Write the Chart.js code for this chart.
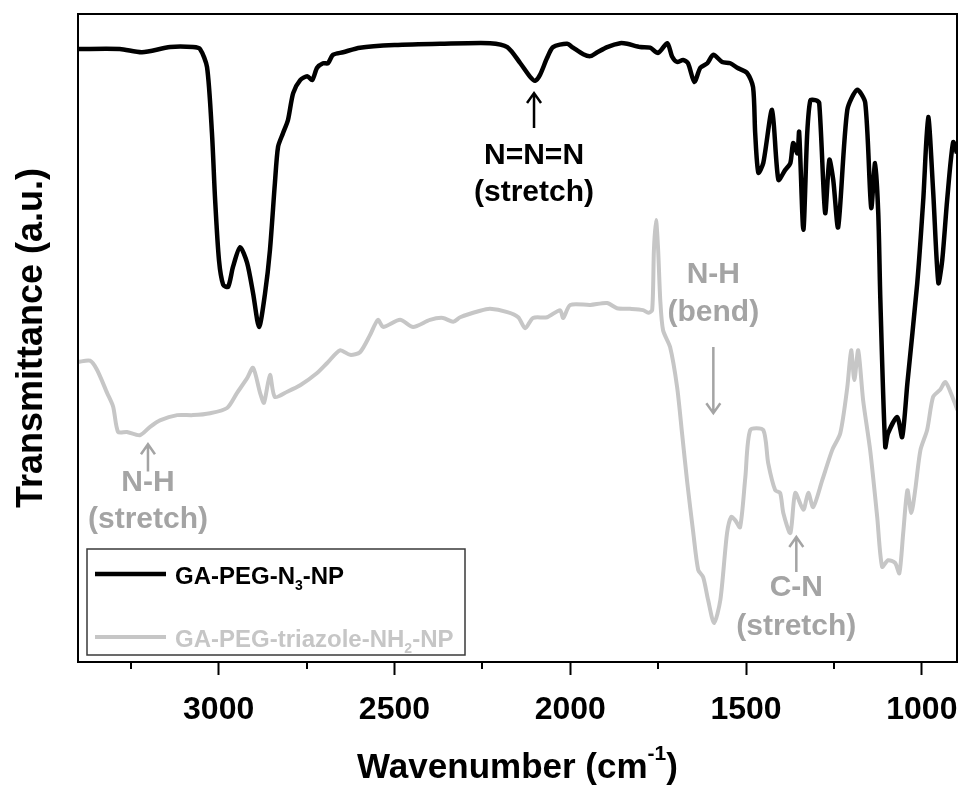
<!DOCTYPE html>
<html lang="en">
<head>
<meta charset="UTF-8">
<title>FTIR spectra</title>
<script src="https://cdn.jsdelivr.net/npm/chart.js"></script>
<style>
    body { margin: 0; background: #fff; }
    .wrap { width: 965px; height: 792px; }
</style>
</head>
<body>
<div class="wrap"><canvas id="ftir"></canvas></div>
<script>
// GA-PEG-N3-NP (black)
const azideWn = [3400, 3281, 3218, 3138, 3073, 3053, 3033, 3019, 3010, 2999, 2987, 2973, 2959, 2939, 2919, 2902, 2885, 2868, 2854, 2840,
    2831, 2817, 2803, 2788, 2768, 2748, 2734, 2720, 2703, 2689, 2675, 2646, 2598, 2500, 2370, 2228, 2179, 2142,
    2114, 2100, 2086, 2066, 2049, 2009, 1992, 1963, 1943, 1923,
    1895, 1858, 1838, 1801, 1773, 1750, 1724, 1710, 1696, 1679,
    1665, 1647, 1630, 1610, 1593, 1568, 1545, 1525, 1497, 1480,
    1474, 1465, 1451, 1426, 1408, 1389, 1374, 1366, 1354, 1349,
    1337, 1326, 1317, 1303, 1292, 1275, 1263, 1252, 1238, 1212,
    1184, 1161, 1144, 1133, 1124, 1118, 1104, 1096, 1070, 1056,
    1041, 1013, 996, 982, 968, 953, 942, 928, 911, 900];
const azideT = [94.6, 94.6, 94.1, 94.9, 94.9, 94.6, 91.8, 81.6, 71.3, 62.0, 58.2, 57.9, 61.0, 64.0, 61.6, 56.9, 51.7, 56.9, 63.6, 73.9,
    79.5, 81.6, 83.6, 87.8, 89.8, 90.4, 89.8, 91.7, 92.4, 92.4, 93.7, 94.1, 94.8, 95.2, 95.4, 95.5, 94.9, 92.4,
    90.3, 89.7, 90.6, 93.2, 94.9, 95.4, 94.8, 93.8, 93.5, 94.1,
    94.9, 95.5, 95.4, 94.9, 94.8, 94.0, 95.5, 93.4, 92.6, 92.9,
    92.4, 89.5, 91.7, 92.4, 93.7, 92.6, 92.4, 91.7, 90.9, 88.7,
    81.6, 75.5, 77.0, 85.2, 74.4, 75.9, 77.0, 80.1, 78.5, 81.8,
    66.7, 81.6, 86.7, 86.7, 86.3, 69.3, 77.5, 74.4, 67.1, 85.2,
    88.3, 86.3, 70.1, 77.0, 69.3, 55.9, 33.2, 35.3, 37.8, 34.7,
    43.1, 58.5, 71.3, 84.1, 72.8, 58.5, 62.0, 71.3, 80.2, 78.5];

// GA-PEG-triazole-NH2-NP (grey)
const amineWn = [3400, 3366, 3346, 3317, 3300, 3286, 3261, 3224, 3195, 3167,
    3118, 3073, 3024, 2976, 2948, 2919, 2902, 2882, 2871, 2854,
    2840, 2805, 2768, 2720, 2692, 2655, 2626, 2598, 2569, 2547,
    2532, 2484, 2447, 2399, 2362, 2333, 2313, 2256, 2228, 2179,
    2148, 2128, 2106, 2066, 2029, 2020, 2000, 1943, 1895, 1867,
    1830, 1793, 1778, 1767, 1762, 1756, 1750, 1744, 1736, 1716,
    1696, 1682, 1667, 1650, 1636, 1622, 1608, 1591, 1573, 1554,
    1542, 1531, 1517, 1502, 1488, 1451, 1437, 1417, 1403, 1394,
    1374, 1360, 1337, 1323, 1309, 1283, 1255, 1232, 1212, 1201,
    1192, 1181, 1167, 1147, 1127, 1113, 1096, 1076, 1064, 1053,
    1041, 1030, 1019, 1004, 985, 968, 948, 933, 913, 899];
const amineT = [46.3, 46.5, 45.1, 41.5, 39.4, 35.5, 35.5, 35.0, 36.3, 37.3,
    38.1, 38.1, 38.4, 39.2, 41.5, 43.8, 45.4, 41.5, 40.0, 44.3,
    40.9, 41.7, 42.7, 44.6, 46.1, 48.1, 47.4, 47.8, 50.5, 52.8,
    51.7, 52.8, 51.7, 52.8, 53.1, 52.5, 53.2, 54.2, 54.5, 54.0,
    53.2, 51.5, 53.1, 53.2, 54.3, 53.1, 55.1, 55.1, 55.4, 54.6,
    54.5, 54.3, 53.9, 54.3, 63.6, 68.2, 63.6, 55.9, 51.2, 48.6,
    42.4, 35.3, 27.6, 19.9, 14.2, 13.1, 9.6, 6.0, 9.6, 19.9,
    22.4, 21.9, 20.8, 28.5, 35.8, 35.8, 30.7, 26.5, 26.1, 23.0,
    19.9, 26.1, 23.5, 26.1, 23.9, 28.1, 32.7, 35.3, 42.4, 48.1,
    43.5, 48.1, 40.4, 32.7, 22.4, 14.7, 15.7, 15.3, 13.7, 19.9,
    26.5, 23.0, 26.5, 32.7, 35.8, 40.9, 42.0, 43.2, 40.9, 38.9];

const majorTicks = [3000, 2500, 2000, 1500, 1000];
const minorTicks = [3250, 2750, 2250, 1750, 1250];

const FONT = "'Liberation Sans', Arial, sans-serif";
const BLACK = '#000000';
const GREY_LINE = '#c6c6c6';
const GREY_TEXT = '#a4a4a4';

// peak labels: x in cm-1, arrow tip/tail and text rows in a.u.
const notes = [
    { wn: 2103, tip: 87.8, tail: 82.4, rows: [['N=N=N', 78.2], ['(stretch)', 72.4]], color: BLACK },
    { wn: 3201, tip: 33.6, tail: 29.4, rows: [['N-H', 27.6], ['(stretch)', 21.9]], color: GREY_TEXT },
    { wn: 1593, tip: 38.4, tail: 48.6, rows: [['N-H', 59.7], ['(bend)', 53.9]], color: GREY_TEXT },
    { wn: 1357, tip: 19.3, tail: 13.9, rows: [['C-N', 11.4], ['(stretch)', 5.4]], color: GREY_TEXT }
];

const legendRows = [
    { color: BLACK, width: 4.5, parts: [['GA-PEG-N'], ['3', 'sub'], ['-NP']] },
    { color: GREY_LINE, width: 4, parts: [['GA-PEG-triazole-NH'], ['2', 'sub'], ['-NP']] }
];

function drawRich(ctx, parts, x, y, size) {
    let cx = x;
    parts.forEach(([t, kind]) => {
        const s = kind ? Math.round(size * 0.6) : size;
        ctx.font = 'bold ' + s + 'px ' + FONT;
        const dy = kind === 'sub' ? size * 0.38 : kind === 'sup' ? -size * 0.38 : 0;
        ctx.fillText(t, cx, y + dy);
        cx += ctx.measureText(t).width;
    });
    return cx - x;
}

function richWidth(ctx, parts, size) {
    let w = 0;
    parts.forEach(([t, kind]) => {
        ctx.font = 'bold ' + (kind ? Math.round(size * 0.6) : size) + 'px ' + FONT;
        w += ctx.measureText(t).width;
    });
    return w;
}

const decorations = {
    id: 'decorations',
    afterDraw(chart) {
        const { ctx, chartArea: a, scales: { x, y } } = chart;
        ctx.save();

        // frame
        ctx.strokeStyle = BLACK;
        ctx.lineWidth = 2;
        ctx.strokeRect(a.left, a.top, a.right - a.left, a.bottom - a.top);

        // minor ticks
        minorTicks.forEach(v => {
            const px = Math.round(x.getPixelForValue(v));
            ctx.beginPath();
            ctx.moveTo(px, a.bottom);
            ctx.lineTo(px, a.bottom + 7);
            ctx.stroke();
        });

        // peak annotations
        ctx.textAlign = 'center';
        ctx.textBaseline = 'middle';
        notes.forEach(n => {
            const px = x.getPixelForValue(n.wn);
            const tip = y.getPixelForValue(n.tip);
            const tail = y.getPixelForValue(n.tail);
            const dir = tail > tip ? 1 : -1;
            ctx.strokeStyle = n.color;
            ctx.fillStyle = n.color;
            ctx.lineWidth = 2.5;
            ctx.beginPath();
            ctx.moveTo(px, tail);
            ctx.lineTo(px, tip);
            ctx.moveTo(px - 7, tip + dir * 10);
            ctx.lineTo(px, tip);
            ctx.lineTo(px + 7, tip + dir * 10);
            ctx.stroke();
            ctx.font = 'bold 30px ' + FONT;
            n.rows.forEach(([t, v]) => ctx.fillText(t, px, y.getPixelForValue(v)));
        });

        // legend
        const lx = a.left + 9, lw = 378, lh = 106, ly = a.bottom - 7 - lh;
        ctx.fillStyle = '#ffffff';
        ctx.fillRect(lx, ly, lw, lh);
        ctx.strokeStyle = '#3a3a3a';
        ctx.lineWidth = 1.5;
        ctx.strokeRect(lx, ly, lw, lh);
        ctx.textAlign = 'left';
        legendRows.forEach((r, i) => {
            const ry = ly + 25 + i * 63;
            ctx.strokeStyle = r.color;
            ctx.lineWidth = r.width;
            ctx.beginPath();
            ctx.moveTo(lx + 8, ry);
            ctx.lineTo(lx + 79, ry);
            ctx.stroke();
            ctx.fillStyle = r.color;
            drawRich(ctx, r.parts, lx + 88, ry + 3, 24);
        });

        // x axis title with superscript
        const title = [['Wavenumber (cm'], ['-1', 'sup'], [')']];
        const tw = richWidth(ctx, title, 35);
        ctx.fillStyle = BLACK;
        drawRich(ctx, title, (a.left + a.right) / 2 - tw / 2, 768, 35);

        ctx.restore();
    }
};

new Chart(document.getElementById('ftir'), {
    type: 'line',
    data: {
        datasets: [
            {
                label: 'GA-PEG-N3-NP',
                data: azideWn.map((w, i) => ({ x: w, y: azideT[i] })),
                borderColor: BLACK,
                borderWidth: 4.5,
                pointRadius: 0,
                tension: 0.25
            },
            {
                label: 'GA-PEG-triazole-NH2-NP',
                data: amineWn.map((w, i) => ({ x: w, y: amineT[i] })),
                borderColor: GREY_LINE,
                borderWidth: 4,
                pointRadius: 0,
                tension: 0.25
            }
        ]
    },
    options: {
        responsive: true,
        maintainAspectRatio: false,
        animation: false,
        layout: { padding: { top: 14, right: 8, left: 0, bottom: 0 } },
        plugins: {
            legend: { display: false },
            tooltip: { enabled: false }
        },
        scales: {
            x: {
                type: 'linear',
                reverse: true,
                min: 900,
                max: 3400,
                afterBuildTicks: s => { s.ticks = majorTicks.map(v => ({ value: v })); },
                afterFit: s => { s.height = 130; s.paddingLeft = 0; s.paddingRight = 0; },
                border: { display: false },
                grid: { display: true, drawOnChartArea: false, drawTicks: true, tickLength: 13, tickWidth: 2, tickColor: BLACK },
                ticks: {
                    autoSkip: false,
                    maxRotation: 0,
                    padding: 16,
                    color: BLACK,
                    font: { family: FONT, size: 32, weight: 'bold' },
                    callback: v => String(v)
                }
            },
            y: {
                min: 0,
                max: 100,
                afterFit: s => { s.width = 78; },
                border: { display: false },
                grid: { display: false },
                ticks: { display: false },
                title: {
                    display: true,
                    text: 'Transmittance (a.u.)',
                    color: BLACK,
                    font: { family: FONT, size: 36, weight: 'bold' },
                    padding: { top: 10, bottom: 0 }
                }
            }
        }
    },
    plugins: [decorations]
});
</script>
</body>
</html>
